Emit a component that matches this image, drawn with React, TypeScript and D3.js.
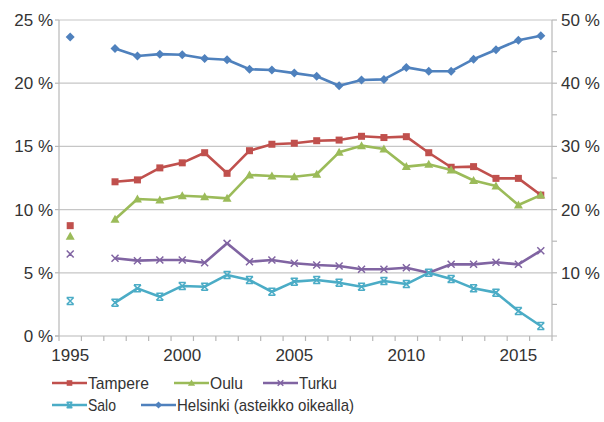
import React from "react";
import * as d3 from "d3";

const years = d3.range(1995, 2017).map(String);
const tampere = [8.73, null, 12.2, 12.35, 13.3, 13.7, 14.5, 12.87, 14.66, 15.17, 15.25, 15.45, 15.5, 15.8, 15.7, 15.77, 14.5, 13.35, 13.4, 12.47, 12.47, 11.15];
const oulu = [7.9, null, 9.23, 10.84, 10.76, 11.1, 11.02, 10.89, 12.74, 12.66, 12.6, 12.8, 14.53, 15.06, 14.8, 13.4, 13.58, 13.13, 12.3, 11.87, 10.36, 11.15];
const turku = [6.49, null, 6.15, 5.96, 6.01, 6.01, 5.8, 7.33, 5.88, 6.01, 5.75, 5.62, 5.54, 5.28, 5.28, 5.4, 5.0, 5.67, 5.67, 5.83, 5.67, 6.75];
const salo = [2.77, null, 2.64, 3.77, 3.11, 3.96, 3.9, 4.83, 4.43, 3.5, 4.3, 4.43, 4.22, 3.9, 4.35, 4.11, 5.0, 4.5, 3.77, 3.43, 1.98, 0.79];
const helsinki = [47.3, null, 45.5, 44.3, 44.6, 44.5, 43.9, 43.7, 42.2, 42.1, 41.6, 41.1, 39.6, 40.5, 40.6, 42.5, 41.9, 41.9, 43.8, 45.3, 46.8, 47.5];
const leftTicks = [0, 5, 10, 15, 20, 25];
const rightTicks = [10, 20, 30, 40, 50];
const rightMinor = [5, 15, 25, 35, 45];
const yearLabels = ["1995", "2000", "2005", "2010", "2015"];

type Marker = "square" | "triangle" | "x" | "star" | "diamond";
const seriesDefs = [
  { name: "Tampere", values: tampere, color: "#C0504D", marker: "square" as Marker, right: false },
  { name: "Oulu", values: oulu, color: "#9BBB59", marker: "triangle" as Marker, right: false },
  { name: "Turku", values: turku, color: "#8064A2", marker: "x" as Marker, right: false },
  { name: "Salo", values: salo, color: "#4BACC6", marker: "star" as Marker, right: false },
  { name: "Helsinki (asteikko oikealla)", values: helsinki, color: "#4F81BD", marker: "diamond" as Marker, right: true },
];

function MarkerShape({ type, x, y, color, s = 1 }: { type: Marker; x: number; y: number; color: string; s?: number }) {
  const a = 3.5 * s, b = 4.5 * s;
  if (type === "square") return <rect x={x - a} y={y - a} width={2 * a} height={2 * a} fill={color} />;
  if (type === "triangle")
    return <path d={`M${x},${y - b}L${x + b},${y + a}L${x - b},${y + a}Z`} fill={color} />;
  if (type === "diamond")
    return <path d={`M${x},${y - b}L${x + b},${y}L${x},${y + b}L${x - b},${y}Z`} fill={color} />;
  if (type === "x")
    return (
      <path d={`M${x - a},${y - a}L${x + a},${y + a}M${x - a},${y + a}L${x + a},${y - a}`} stroke={color} strokeWidth={1.5} />
    );
  return (
    <path
      d={`M${x - a},${y - a}L${x + a},${y + a}M${x - a},${y + a}L${x + a},${y - a}M${x - a},${y - a}L${x + a},${y - a}M${x - a},${y + a}L${x + a},${y + a}`}
      stroke={color}
      strokeWidth={1.5}
    />
  );
}

export default function App() {
  const W = 604, H = 422;
  const x = d3.scaleBand<string>().domain(years).range([59, 552]);
  const cx = (yr: string) => (x(yr) as number) + x.bandwidth() / 2;
  const yL = d3.scaleLinear().domain([0, 25]).range([336, 20]);
  const yR = d3.scaleLinear().domain([0, 50]).range([336, 20]);
  const font = "'Liberation Sans', Arial, Helvetica, sans-serif";
  const legendFont = "'Liberation Sans Narrow', 'Liberation Sans', Arial, sans-serif";
  const boundaries = years.map((yr) => x(yr) as number).concat([552]);

  const legendItems = [
    { i: 0, lx: 52, ly: 383, tw: 61 },
    { i: 1, lx: 174, ly: 383, tw: 33 },
    { i: 2, lx: 263, ly: 383, tw: 38 },
    { i: 3, lx: 52, ly: 405, tw: 28 },
    { i: 4, lx: 141, ly: 405, tw: 177 },
  ];

  return (
    <svg width={W} height={H} style={{ position: "absolute", left: 0, top: 0, background: "#fff" }}>
      {leftTicks.filter((t) => t > 0).map((t) => (
        <line key={t} x1={59} x2={552} y1={yL(t)} y2={yL(t)} stroke="#c6c6c6" strokeWidth={1.2} />
      ))}
      <line x1={59} x2={59} y1={20} y2={336} stroke="#b8b8b8" strokeWidth={1.2} />
      <line x1={552} x2={552} y1={20} y2={336} stroke="#b8b8b8" strokeWidth={1.2} />
      <line x1={55} x2={557} y1={336} y2={336} stroke="#b8b8b8" strokeWidth={1.2} />
      {leftTicks.map((t) => (
        <g key={t}>
          <line x1={55} x2={59} y1={yL(t)} y2={yL(t)} stroke="#b8b8b8" strokeWidth={1.2} />
          <text x={53} y={yL(t)} dy="0.35em" textAnchor="end" fontFamily={font} fontSize={17} fill="#333">
            {t} %
          </text>
        </g>
      ))}
      {rightTicks.concat(rightMinor).map((t) => (
        <line key={t} x1={552} x2={557} y1={yR(t)} y2={yR(t)} stroke="#b8b8b8" strokeWidth={1.2} />
      ))}
      {rightTicks.map((t) => (
        <text key={t} x={561} y={yR(t)} dy="0.35em" textAnchor="start" fontFamily={font} fontSize={17} fill="#333">
          {t} %
        </text>
      ))}
      {boundaries.map((b, i) => (
        <line key={i} x1={b} x2={b} y1={336} y2={341} stroke="#b8b8b8" strokeWidth={1.2} />
      ))}
      {yearLabels.map((yr) => (
        <text key={yr} x={cx(yr)} y={355} dy="0.35em" textAnchor="middle" fontFamily={font} fontSize={17} fill="#333">
          {yr}
        </text>
      ))}
      {seriesDefs.map((s) => {
        const ys = s.right ? yR : yL;
        const pts = years.map((yr, i) => ({ yr, v: s.values[i] as number | null }));
        const line = d3
          .line<{ yr: string; v: number | null }>()
          .defined((d) => d.v != null)
          .x((d) => cx(d.yr))
          .y((d) => ys(d.v as number));
        return (
          <g key={s.name}>
            <path d={line(pts) || ""} fill="none" stroke={s.color} strokeWidth={2.6} strokeLinejoin="round" />
            {pts
              .filter((d) => d.v != null)
              .map((d) => (
                <MarkerShape key={d.yr} type={s.marker} x={cx(d.yr)} y={ys(d.v as number)} color={s.color} />
              ))}
          </g>
        );
      })}
      {legendItems.map(({ i, lx, ly, tw }) => {
        const s = seriesDefs[i];
        return (
          <g key={s.name}>
            <line x1={lx} x2={lx + 35} y1={ly} y2={ly} stroke={s.color} strokeWidth={2.6} />
            <MarkerShape type={s.marker} x={lx + 17.5} y={ly} color={s.color} s={0.8} />
            <text
              x={lx + 36}
              y={ly}
              dy="0.35em"
              fontFamily={legendFont}
              fontSize={17}
              fill="#333"
              textLength={tw}
              lengthAdjust="spacingAndGlyphs"
            >
              {s.name}
            </text>
          </g>
        );
      })}
    </svg>
  );
}
